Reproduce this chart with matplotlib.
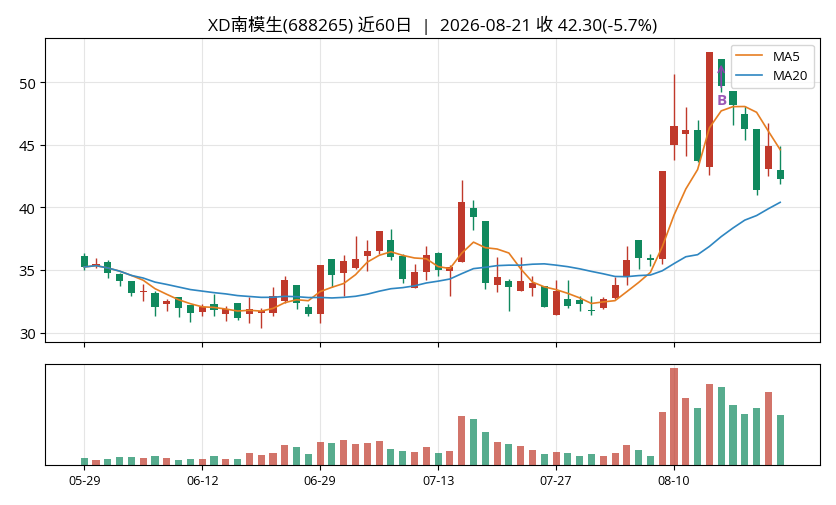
import numpy as np
import pandas as pd
import matplotlib
matplotlib.use("Agg")
import matplotlib.pyplot as plt

plt.rcParams['font.family'] = ['Open Sans', 'Noto Sans CJK SC', 'DejaVu Sans']

# daily OHLC, 60 trading days
opens = [36.12, 35.35, 35.64, 34.68, 34.12, 33.25, 33.17, 32.32, 32.85, 32.21,
         31.68, 32.26, 31.49, 32.37, 31.49, 31.57, 31.57, 32.50, 33.80, 32.05,
         31.52, 35.88, 34.79, 35.19, 36.14, 36.54, 37.39, 36.09, 33.59, 34.87,
         36.35, 34.95, 35.66, 39.94, 38.90, 33.83, 34.10, 33.35, 33.59, 33.70,
         31.44, 32.69, 32.61, 31.80, 31.97, 32.79, 34.52, 37.36, 35.98, 35.84,
         44.98, 45.88, 46.20, 43.25, 51.83, 49.28, 47.42, 46.25, 43.09, 42.96]
highs = [36.35, 35.93, 35.80, 34.79, 34.12, 33.86, 33.33, 32.69, 32.85, 32.21,
         32.26, 33.06, 32.16, 32.37, 32.82, 31.95, 33.62, 34.50, 33.80, 32.32,
         35.40, 35.88, 36.20, 37.68, 37.39, 38.10, 38.24, 36.25, 35.50, 36.89,
         36.41, 35.42, 42.20, 40.60, 38.90, 36.00, 34.28, 36.00, 34.55, 33.70,
         34.18, 34.18, 32.95, 32.90, 32.84, 34.44, 36.90, 37.36, 36.30, 42.91,
         50.66, 47.98, 46.97, 52.42, 51.83, 49.28, 48.11, 46.25, 46.70, 44.93]
lows = [34.97, 35.13, 34.39, 33.75, 32.90, 32.50, 31.31, 31.70, 31.23, 30.83,
        31.31, 31.36, 30.96, 31.04, 30.75, 30.35, 31.36, 32.37, 31.90, 31.31,
        30.75, 33.62, 32.95, 35.08, 34.89, 36.27, 35.82, 33.94, 33.54, 34.18,
        34.55, 32.90, 35.61, 38.19, 33.49, 33.22, 31.70, 33.33, 32.90, 32.03,
        31.39, 31.95, 31.70, 31.44, 31.86, 32.71, 33.77, 35.05, 35.31, 35.50,
        43.81, 44.13, 43.60, 42.62, 49.20, 46.57, 45.40, 41.00, 42.48, 41.87]
closes = [35.24, 35.45, 34.79, 34.15, 33.19, 33.32, 32.08, 32.53, 32.00, 31.60,
          32.08, 31.84, 31.89, 31.20, 31.89, 31.76, 32.90, 34.20, 32.37, 31.49,
          35.40, 34.63, 35.72, 35.88, 36.51, 38.10, 36.06, 34.28, 34.84, 36.20,
          34.97, 35.27, 40.42, 39.25, 33.99, 34.44, 33.67, 34.12, 33.96, 32.08,
          33.33, 32.16, 32.32, 31.73, 32.71, 33.83, 35.76, 35.98, 35.76, 42.91,
          46.49, 46.20, 43.73, 52.42, 49.68, 48.19, 46.25, 41.42, 44.86, 42.30]
volumes = [21, 15, 18, 24, 24, 21, 27, 21, 15, 18,
           18, 27, 18, 18, 36, 30, 36, 60, 54, 33,
           69, 66, 75, 63, 66, 72, 48, 42, 39, 54,
           36, 42, 147, 138, 99, 69, 63, 57, 45, 33,
           39, 36, 27, 33, 27, 36, 60, 45, 27, 159,
           291, 201, 171, 243, 234, 180, 153, 171, 219, 150]

tick_idx = [0, 10, 20, 30, 40, 50]
tick_labels = ['05-29', '06-12', '06-29', '07-13', '07-27', '08-10']

signal_idx = 54
signal_label = 'B'

up_color = '#c0392b'
down_color = '#10895e'

x = np.arange(len(closes))
o = np.array(opens)
h = np.array(highs)
l = np.array(lows)
c = np.array(closes)
up = c >= o
colors = np.where(up, up_color, down_color)

ma5 = pd.Series(c).rolling(5, min_periods=1).mean()
ma20 = pd.Series(c).rolling(20, min_periods=1).mean()

fig = plt.figure(figsize=(8.36, 5.06), dpi=100)
ax = fig.add_axes([0.0542, 0.3221, 0.927, 0.6008])
axv = fig.add_axes([0.0542, 0.0796, 0.927, 0.1985], sharex=ax)

ax.vlines(x, l, h, colors=colors, linewidth=1, zorder=2)
body_bottom = np.minimum(o, c)
body_h = np.maximum(np.abs(c - o), 0.06)
ax.bar(x, body_h, bottom=body_bottom, width=0.6, color=colors, zorder=3)

ax.plot(x, ma5, color='#e67e22', linewidth=1.2, label='MA5', zorder=4)
ax.plot(x, ma20, color='#2e86c1', linewidth=1.2, label='MA20', zorder=4)

ax.annotate(signal_label, xy=(signal_idx, h[signal_idx] - 0.2),
            xytext=(signal_idx, l[signal_idx] - 0.6),
            ha='center', va='center', color='#9b59b6', fontsize=11,
            fontweight='bold',
            arrowprops=dict(arrowstyle='->', color='#8e44ad', lw=1.2),
            zorder=5)

ax.set_title('XD南模生(688265) 近60日  |  2026-08-21 收 42.30(-5.7%)', fontsize=12.5)
ax.legend(loc='upper right', fontsize=9.5)
ax.grid(True, color='#e5e5e5', linewidth=0.8)
ax.set_axisbelow(True)
ax.tick_params(axis='x', labelbottom=False)
ax.tick_params(axis='y', labelsize=10.5)
ax.set_yticks([30, 35, 40, 45, 50])
ax.margins(x=0.05, y=0.05)

axv.bar(x, volumes, width=0.6, color=colors, alpha=0.7)
axv.set_ylim(0, max(volumes) * 1.04)
axv.set_yticks([])
axv.grid(True, axis='x', color='#e5e5e5', linewidth=0.8)
axv.set_axisbelow(True)
axv.set_xticks(tick_idx)
axv.set_xticklabels(tick_labels, fontsize=9)
axv.set_xlim(-3.3, 62.4)

fig.savefig('out.png', dpi=100)
